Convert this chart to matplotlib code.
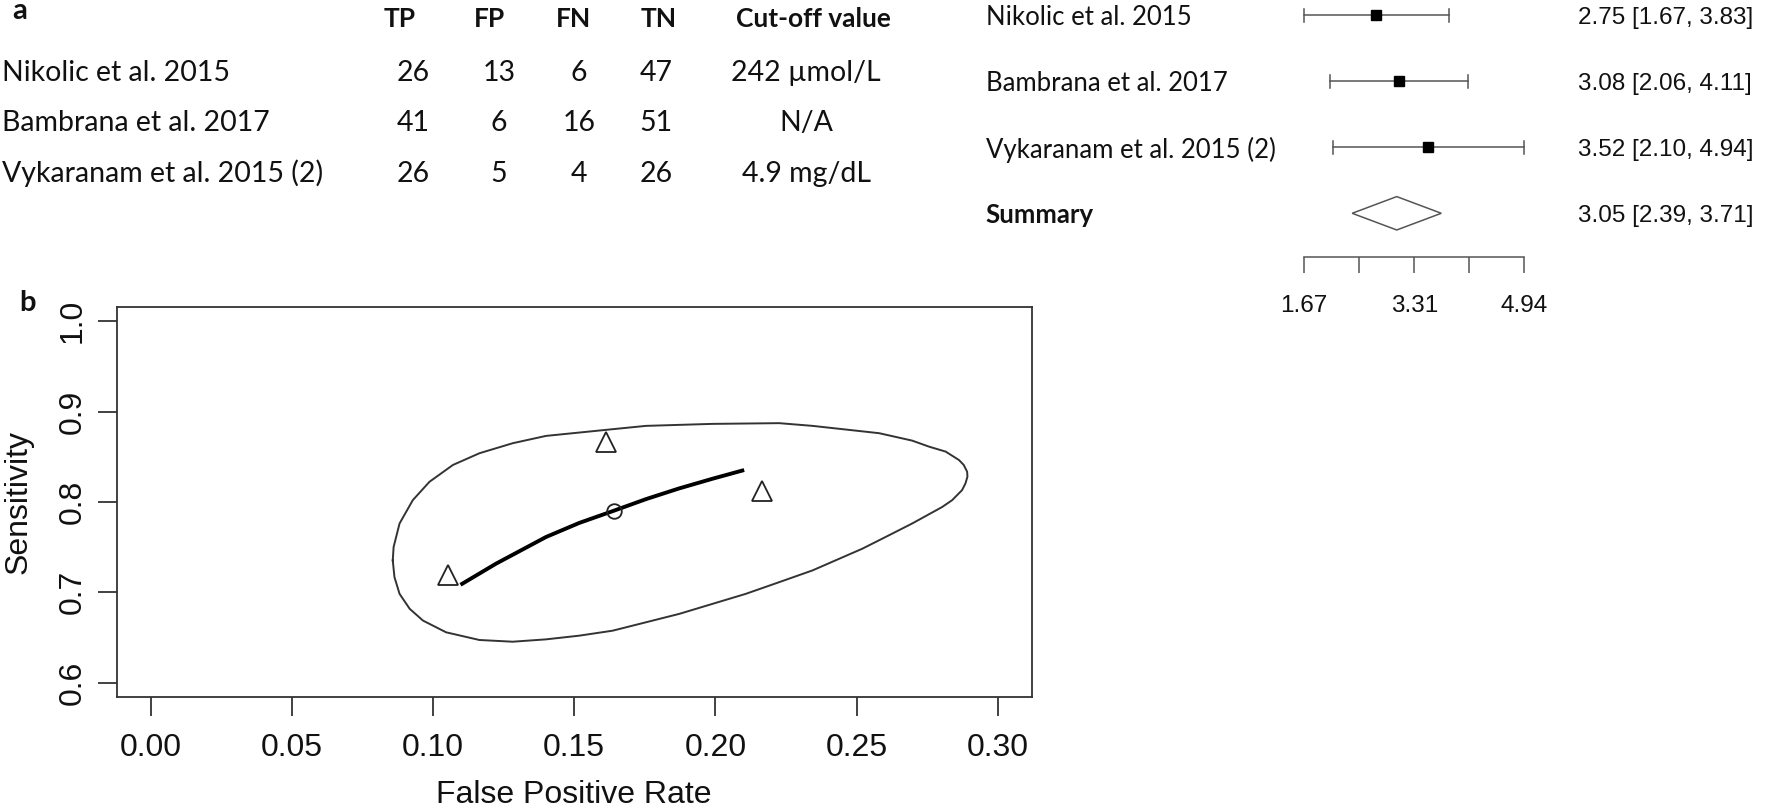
import matplotlib.pyplot as plt
from matplotlib import transforms

plt.rcParams['font.family'] = ['Liberation Sans', 'DejaVu Sans']

W, H = 1770, 809

# ---- panel a : 2x2 table ----
studies = ["Nikolic et al. 2015", "Bambrana et al. 2017", "Vykaranam et al. 2015 (2)"]
headers = ["TP", "FP", "FN", "TN", "Cut-off value"]
tp = [26, 41, 26]
fp = [13, 6, 5]
fn = [6, 16, 4]
tn = [47, 51, 26]
cutoff = ["242 µmol/L", "N/A", "4.9 mg/dL"]

# ---- panel a : forest plot ----
est = [2.75, 3.08, 3.52]
ci_lo = [1.67, 2.06, 2.10]
ci_hi = [3.83, 4.11, 4.94]
sum_est, sum_lo, sum_hi = 3.05, 2.39, 3.71
forest_ticks = [1.67, 2.49, 3.31, 4.12, 4.94]
forest_ticklabels = ["1.67", "", "3.31", "", "4.94"]

# ---- panel b : sROC ----
summary_fpr, summary_sens = 0.164, 0.790
sroc_fpr = [0.1097, 0.1223, 0.1400, 0.1518, 0.1636, 0.1754, 0.1872, 0.1990, 0.2102]
sroc_sens = [0.7082, 0.7316, 0.7611, 0.7767, 0.7897, 0.8030, 0.8149, 0.8256, 0.8352]
region_fpr = [0.0857, 0.0860, 0.0881, 0.0928, 0.0987, 0.1070, 0.1164, 0.1282, 0.1400,
              0.1613, 0.1754, 0.1989, 0.2226, 0.2344, 0.2580, 0.2697, 0.2757, 0.2816,
              0.2863, 0.2880, 0.2892, 0.2893, 0.2886, 0.2874, 0.2839, 0.2804, 0.2697,
              0.2603, 0.2521, 0.2344, 0.2226, 0.2108, 0.1990, 0.1872, 0.1754, 0.1636,
              0.1518, 0.1400, 0.1282, 0.1164, 0.1046, 0.0964, 0.0917, 0.0881, 0.0863,
              0.0857]
region_sens = [0.7352, 0.7500, 0.7760, 0.8019, 0.8222, 0.8408, 0.8538, 0.8649, 0.8730,
               0.8797, 0.8841, 0.8863, 0.8871, 0.8841, 0.8760, 0.8678, 0.8611, 0.8556,
               0.8463, 0.8408, 0.8333, 0.8278, 0.8204, 0.8130, 0.8019, 0.7944, 0.7760,
               0.7611, 0.7482, 0.7241, 0.7111, 0.6982, 0.6871, 0.6760, 0.6667, 0.6574,
               0.6519, 0.6478, 0.6452, 0.6471, 0.6556, 0.6686, 0.6816, 0.6982, 0.7167,
               0.7352]

fig = plt.figure(figsize=(W / 100, H / 100), dpi=100)

# background axes in pixel units, used for the table text
bg = fig.add_axes([0, 0, 1, 1], zorder=-1)
bg.set_xlim(0, W)
bg.set_ylim(H, 0)
bg.axis('off')

txt = '#111111'
tfont = 'Lato'
bg.text(12, 19, "a", fontsize=21, fontweight='bold', family=tfont, color=txt, va='baseline')
bg.text(19, 311, "b", fontsize=21, fontweight='bold', family=tfont, color=txt, va='baseline')

head_x = [400, 490, 574, 659, 813]
col_x = [413, 499, 579, 656, 806]
row_base = [80.5, 131, 182]
for hx, h in zip(head_x, headers):
    bg.text(hx, 26.5, h, fontsize=19, fontweight='bold', family=tfont, color=txt,
            ha='center', va='baseline')
for i, name in enumerate(studies):
    yb = row_base[i]
    bg.text(2, yb, name, fontsize=20.5, family=tfont, color=txt, va='baseline')
    cells = [str(tp[i]), str(fp[i]), str(fn[i]), str(tn[i]), cutoff[i]]
    for cx, c in zip(col_x, cells):
        bg.text(cx, yb, c, fontsize=20.5, family=tfont, color=txt, ha='center', va='baseline')

# forest plot
axf = fig.add_axes([1303.6 / W, (H - 257.3) / H, 220.7 / W, 257.3 / H])
axf.set_xlim(forest_ticks[0], forest_ticks[-1])
axf.set_ylim(-0.667, 3.232)
axf.patch.set_visible(False)
for s in ['left', 'right', 'top']:
    axf.spines[s].set_visible(False)
axf.spines['bottom'].set_color('#555555')
axf.spines['bottom'].set_linewidth(1.1)
axf.set_yticks([])
axf.set_xticks(forest_ticks)
axf.set_xticklabels(forest_ticklabels)
axf.tick_params(axis='x', direction='out', length=11.5, width=1.1, color='#555555',
                pad=16, labelsize=17.5, labelcolor=txt)

gcol = '#555555'
rows = [3, 2, 1]
blend = transforms.blended_transform_factory(fig.transFigure, axf.transData)
for i, y in enumerate(rows):
    axf.plot([ci_lo[i], ci_hi[i]], [y, y], color=gcol, lw=1.1, clip_on=False)
    axf.plot([ci_lo[i], ci_lo[i]], [y - 0.1, y + 0.1], color=gcol, lw=1.1, clip_on=False)
    axf.plot([ci_hi[i], ci_hi[i]], [y - 0.1, y + 0.1], color=gcol, lw=1.1, clip_on=False)
    axf.plot(est[i], y, marker='s', color='black', ms=7.5, clip_on=False)
    axf.text(985.6 / W, y, studies[i], transform=blend, fontsize=18.5, family=tfont,
             color=txt, va='center_baseline')
    axf.text(1577.5 / W, y, f"{est[i]:.2f} [{ci_lo[i]:.2f}, {ci_hi[i]:.2f}]", transform=blend,
             fontsize=17.5, color=txt, va='center_baseline')

axf.fill([sum_lo, sum_est, sum_hi, sum_est], [0, 0.253, 0, -0.253], facecolor='white',
         edgecolor=gcol, lw=1.1, clip_on=False)
axf.text(985.6 / W, 0, "Summary", transform=blend, fontsize=18.5, fontweight='bold',
         family=tfont, color=txt, va='center_baseline')
axf.text(1577.5 / W, 0, f"{sum_est:.2f} [{sum_lo:.2f}, {sum_hi:.2f}]", transform=blend,
         fontsize=17.5, color=txt, va='center_baseline')

# panel b: sROC plot
ax = fig.add_axes([117 / W, (H - 697) / H, 914.5 / W, 390.3 / H])
ax.set_xlim(-0.012, 0.312)
ax.set_ylim(0.584, 1.016)
lc = '#333333'
for s in ax.spines.values():
    s.set_color(lc)
    s.set_linewidth(1.3)

ax.plot(region_fpr, region_sens, color=lc, lw=1.4, solid_joinstyle='round')
ax.plot(sroc_fpr, sroc_sens, color='black', lw=2.8, solid_capstyle='butt',
        solid_joinstyle='round')
study_fpr = [f / (f + t) for f, t in zip(fp, tn)]
study_sens = [a / (a + b) for a, b in zip(tp, fn)]
ax.plot(study_fpr, study_sens, ls='none', marker='^', ms=14, mfc='white', mec='#222222', mew=1.3)
ax.plot(summary_fpr, summary_sens, ls='none', marker='o', ms=10.5, mfc='none', mec='#222222', mew=1.3)

ax.set_xticks([0, 0.05, 0.10, 0.15, 0.20, 0.25, 0.30])
ax.set_xticklabels(["0.00", "0.05", "0.10", "0.15", "0.20", "0.25", "0.30"])
ax.set_yticks([0.6, 0.7, 0.8, 0.9, 1.0])
ax.set_yticklabels(["0.6", "0.7", "0.8", "0.9", "1.0"])
ax.tick_params(direction='out', length=13.7, width=1.3, color=lc, labelsize=23, labelcolor=txt)
ax.tick_params(axis='x', pad=12)
ax.tick_params(axis='y', pad=7.5, labelrotation=90)
for lab in ax.get_yticklabels():
    lab.set_va('center')

ax.set_xlabel("False Positive Rate", fontsize=23, color=txt)
ax.xaxis.set_label_coords(0.5, (697 - 795) / 390.3)
ax.xaxis.label.set_va('center')
ax.set_ylabel("Sensitivity", fontsize=23, color=txt)
ax.yaxis.set_label_coords((18.6 - 117) / 914.5, 0.5)
ax.yaxis.label.set_va('center')

fig.savefig("out.png", dpi=100)
